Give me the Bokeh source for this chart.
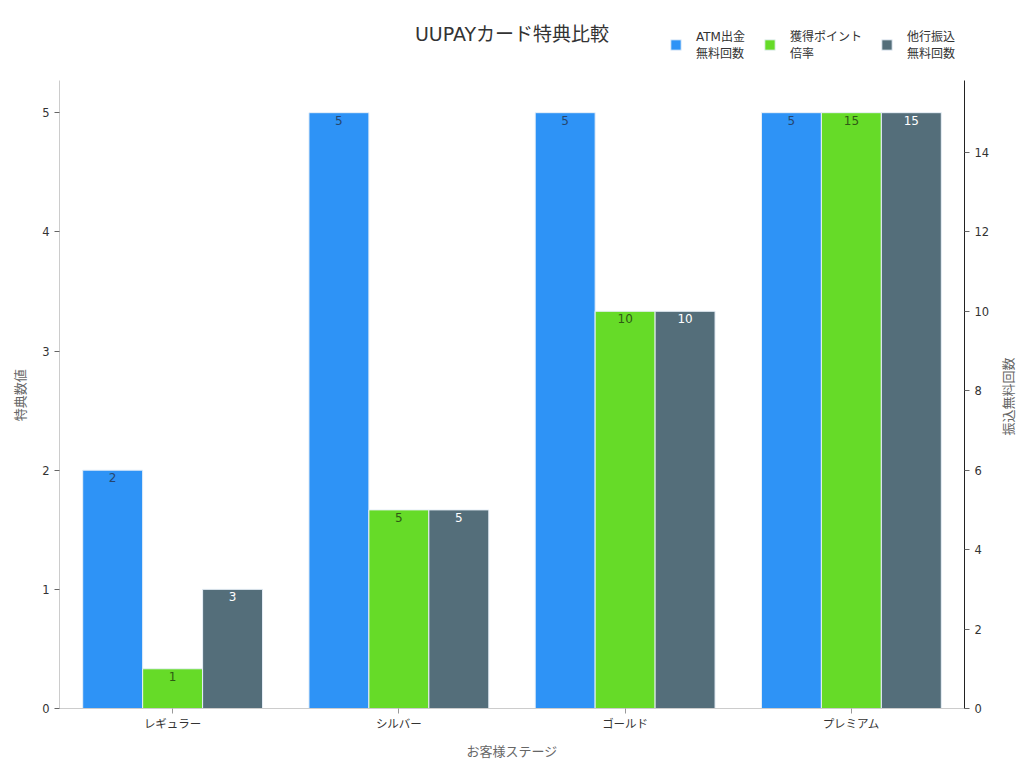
import math
from bokeh.plotting import figure
from bokeh.models import (ColumnDataSource, FactorRange, Range1d, LinearAxis, Legend, LegendItem,
                          Label, FixedTicker)
from bokeh.transform import dodge
from bokeh.core.properties import value
from bokeh.embed import file_html
from bokeh.resources import INLINE

stages = ["レギュラー", "シルバー", "ゴールド", "プレミアム"]
atm_free = [2, 5, 5, 5]
point_rate = [1, 5, 10, 15]
transfer_free = [3, 5, 10, 15]
series_names = ["ATM出金\n無料回数", "獲得ポイント\n倍率", "他行振込\n無料回数"]
title_text = "UUPAYカード特典比較"
x_label = "お客様ステージ"
y_left_label = "特典数値"
y_right_label = "振込無料回数"
left_ticks = [0, 1, 2, 3, 4, 5]
right_ticks = [0, 2, 4, 6, 8, 10, 12, 14]

FONT = "DejaVu Sans, Noto Sans CJK JP"
colors = ["#2E93F6", "#66DB28", "#546E7A"]
label_colors = ["#26466e", "#2e5a14", "#ffffff"]

LEFT_MAX = 5.27          # top of the drawn axes
RIGHT_MAX = 15.81
FRAME_H = 698            # frame extends above the axes to host title and legend
AXIS_H = 628
left_top = LEFT_MAX * FRAME_H / AXIS_H
right_top = RIGHT_MAX * FRAME_H / AXIS_H
# trailing padding so that the rotated left axis title centres on the drawn axis part
PAD = "\u3000" * 5 + "\u2002"
# anchor (start) of the rotated right-hand axis title, in right-axis units
RIGHT_TITLE_AT = 6.87

src = ColumnDataSource(dict(
    stage=stages, atm=atm_free, pts=point_rate, trf=transfer_free,
    atm_t=[str(v) for v in atm_free], pts_t=[str(v) for v in point_rate],
    trf_t=[str(v) for v in transfer_free],
))

p = figure(x_range=FactorRange(*stages, range_padding=0), y_range=Range1d(0, left_top),
           frame_width=905, frame_height=FRAME_H, output_backend="svg", toolbar_location=None,
           min_border_left=59, min_border_right=40, min_border_top=10, min_border_bottom=44)
p.extra_y_ranges = {"right": Range1d(0, right_top)}
p.background_fill_color = "white"
p.border_fill_color = "white"
p.outline_line_color = None
p.xgrid.visible = False
p.ygrid.visible = False

w = 0.265
r1 = p.vbar(x=dodge("stage", -w, range=p.x_range), top="atm", width=w, source=src,
            fill_color=colors[0], line_color="#e8f0f8", line_width=1)
r2 = p.vbar(x=dodge("stage", 0, range=p.x_range), top="pts", width=w, source=src,
            fill_color=colors[1], line_color="#e8f0f8", line_width=1, y_range_name="right")
r3 = p.vbar(x=dodge("stage", w, range=p.x_range), top="trf", width=w, source=src,
            fill_color=colors[2], line_color="#e8f0f8", line_width=1, y_range_name="right")

for off, col, tcol, rng in [(-w, "atm", label_colors[0], "default"),
                            (0, "pts", label_colors[1], "right"),
                            (w, "trf", label_colors[2], "right")]:
    kw = {} if rng == "default" else {"y_range_name": rng}
    p.text(x=dodge("stage", off, range=p.x_range), y=col, text=col + "_t", source=src,
           text_align="center", text_baseline="top", y_offset=3,
           text_font=value(FONT), text_font_size="12px", text_color=tcol, **kw)

# axes styling
xa = p.xaxis[0]
xa.axis_label = x_label
xa.axis_label_text_font = FONT
xa.axis_label_text_font_style = "normal"
xa.axis_label_text_font_size = "13px"
xa.axis_label_text_color = "#666666"
xa.axis_label_standoff = 10
xa.major_label_text_font = FONT
xa.major_label_text_font_size = "11.5px"
xa.major_label_text_color = "#333333"
xa.axis_line_color = "#cccccc"
xa.major_tick_line_color = "#999999"
xa.major_tick_in = 0
xa.major_tick_out = 5
xa.major_label_standoff = 3

ya = p.yaxis[0]
ya.axis_label = y_left_label + PAD
ya.bounds = (0, LEFT_MAX)
ya.ticker = FixedTicker(ticks=left_ticks)
ya.axis_label_text_font = FONT
ya.axis_label_text_font_style = "normal"
ya.axis_label_text_font_size = "13px"
ya.axis_label_text_color = "#666666"
ya.axis_label_standoff = 11
ya.major_label_text_font = FONT
ya.major_label_text_font_size = "11.5px"
ya.major_label_text_color = "#333333"
ya.axis_line_color = "#cccccc"
ya.major_tick_line_color = "#666666"
ya.major_tick_in = 0
ya.major_tick_out = 5
ya.minor_tick_line_color = None

ra = LinearAxis(y_range_name="right", ticker=FixedTicker(ticks=right_ticks))
ra.bounds = (0, RIGHT_MAX)
ra.major_label_text_font = FONT
ra.major_label_text_font_size = "11.5px"
ra.major_label_text_color = "#333333"
ra.axis_line_color = "#222222"
ra.major_tick_line_color = "#666666"
ra.major_tick_in = 0
ra.major_tick_out = 5
ra.minor_tick_line_color = None
p.add_layout(ra, "right")

# right-hand axis title, drawn reading bottom-to-top like the left one
rt = LinearAxis(y_range_name="right", ticker=FixedTicker(ticks=[RIGHT_TITLE_AT]),
                major_label_overrides={RIGHT_TITLE_AT: y_right_label})
rt.major_label_orientation = math.pi / 2
rt.major_label_text_font = FONT
rt.major_label_text_font_size = "13px"
rt.major_label_text_color = "#666666"
rt.major_label_standoff = 10
rt.axis_line_color = None
rt.major_tick_line_color = None
rt.minor_tick_line_color = None
p.add_layout(rt, "right")

title = Label(x=2.0, y=LEFT_MAX * 675 / AXIS_H, text=title_text, text_align="center",
              text_baseline="middle", text_font=FONT, text_font_size="19px",
              text_color="#333333")
p.add_layout(title)

legend = Legend(items=[LegendItem(label=series_names[0], renderers=[r1]),
                       LegendItem(label=series_names[1], renderers=[r2]),
                       LegendItem(label=series_names[2], renderers=[r3])],
                orientation="horizontal", location=(610, 647),
                glyph_width=13, glyph_height=13, label_standoff=14, spacing=18,
                label_text_font=FONT, label_text_font_size="12px", label_text_color="#333333",
                border_line_color=None, background_fill_alpha=0, padding=6, margin=0)
p.add_layout(legend, "center")

open("out.html", "w").write(file_html(p, INLINE))
